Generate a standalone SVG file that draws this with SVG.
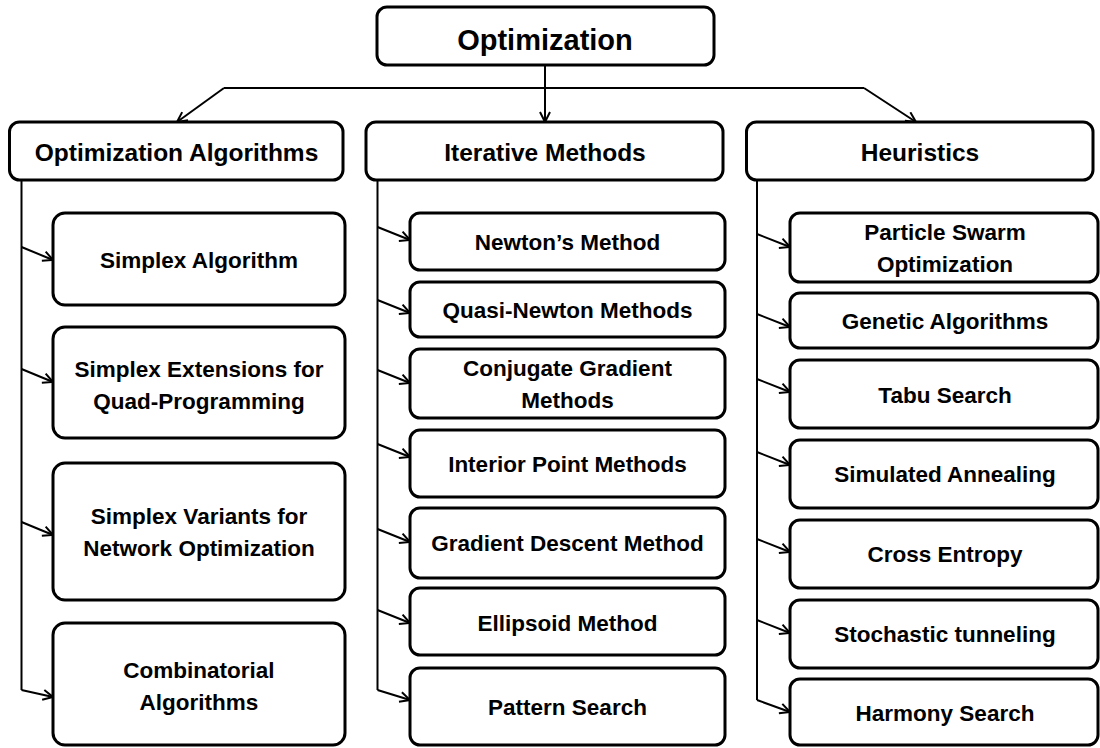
<svg xmlns="http://www.w3.org/2000/svg" width="1100" height="748" viewBox="0 0 1100 748">
<style>
.box{fill:#fff;stroke:#000;stroke-width:3}
.t{font-family:"Liberation Sans",Arial,sans-serif;font-weight:bold;fill:#000;text-anchor:middle}
.s{font-size:22.5px}
.m{font-size:24.5px}
.l{font-size:29px}
.c{fill:none;stroke:#000;stroke-width:2}
</style>
<defs>
<marker id="ah" markerWidth="12" markerHeight="12" refX="11" refY="6" orient="auto" markerUnits="userSpaceOnUse">
<path d="M1,1 L11,6 L1,11" fill="none" stroke="#000" stroke-width="2"/>
</marker>
</defs>
<rect width="1100" height="748" fill="#fff"/>
<g id="connectors">
<path class="c" d="M545,65 L545,122" marker-end="url(#ah)"/>
<path class="c" d="M224,88 L864,88"/>
<path class="c" d="M224,88 L177,122" marker-end="url(#ah)"/>
<path class="c" d="M864,88 L916,122" marker-end="url(#ah)"/>
<path class="c" d="M21.5,180 L21.5,690"/>
<path class="c" d="M21.5,247 L53,260" marker-end="url(#ah)"/>
<path class="c" d="M21.5,369 L53,382" marker-end="url(#ah)"/>
<path class="c" d="M21.5,522 L53,535" marker-end="url(#ah)"/>
<path class="c" d="M21.5,690 L53,697" marker-end="url(#ah)"/>
<path class="c" d="M377.5,180 L377.5,690"/>
<path class="c" d="M377.5,227 L410,240" marker-end="url(#ah)"/>
<path class="c" d="M377.5,300 L410,313" marker-end="url(#ah)"/>
<path class="c" d="M377.5,370 L410,383" marker-end="url(#ah)"/>
<path class="c" d="M377.5,444 L410,457" marker-end="url(#ah)"/>
<path class="c" d="M377.5,529 L410,542" marker-end="url(#ah)"/>
<path class="c" d="M377.5,610 L410,623" marker-end="url(#ah)"/>
<path class="c" d="M377.5,690 L410,700" marker-end="url(#ah)"/>
<path class="c" d="M757,180 L757,700"/>
<path class="c" d="M757,234 L790,247" marker-end="url(#ah)"/>
<path class="c" d="M757,314 L790,327" marker-end="url(#ah)"/>
<path class="c" d="M757,379 L790,392" marker-end="url(#ah)"/>
<path class="c" d="M757,452 L790,465" marker-end="url(#ah)"/>
<path class="c" d="M757,539 L790,552" marker-end="url(#ah)"/>
<path class="c" d="M757,620 L790,633" marker-end="url(#ah)"/>
<path class="c" d="M757,700 L790,712" marker-end="url(#ah)"/>
</g>
<g id="optimization"><rect class="box" x="377" y="7" width="337" height="58" rx="10"/><text class="t l" x="545" y="50">Optimization</text></g>
<g id="opt-algorithms"><rect class="box" x="9.5" y="122" width="333.5" height="58" rx="10"/><text class="t m" x="176.5" y="161">Optimization Algorithms</text></g>
<g id="iterative"><rect class="box" x="366" y="122" width="357" height="58" rx="10"/><text class="t m" x="545" y="161">Iterative Methods</text></g>
<g id="heuristics"><rect class="box" x="746.5" y="122" width="346.5" height="58" rx="10"/><text class="t m" x="920" y="161">Heuristics</text></g>

<g id="simplex-algorithm"><rect class="box" x="53" y="213" width="292" height="92" rx="12"/><text class="t s" x="199" y="268">Simplex Algorithm</text></g>
<g id="simplex-extensions"><rect class="box" x="53" y="327" width="292" height="111" rx="12"/><text class="t s" x="199" y="377">Simplex Extensions for</text><text class="t s" x="199" y="409">Quad-Programming</text></g>
<g id="simplex-variants"><rect class="box" x="53" y="463" width="292" height="137" rx="12"/><text class="t s" x="199" y="524">Simplex Variants for</text><text class="t s" x="199" y="556">Network Optimization</text></g>
<g id="combinatorial"><rect class="box" x="53" y="623" width="292" height="122" rx="12"/><text class="t s" x="199" y="678">Combinatorial</text><text class="t s" x="199" y="710">Algorithms</text></g>

<g id="newton"><rect class="box" x="410" y="213" width="315" height="57" rx="10"/><text class="t s" x="567.5" y="250">Newton’s Method</text></g>
<g id="quasi-newton"><rect class="box" x="410" y="282" width="315" height="55" rx="10"/><text class="t s" x="567.5" y="318">Quasi-Newton Methods</text></g>
<g id="conjugate"><rect class="box" x="410" y="349" width="315" height="69" rx="10"/><text class="t s" x="567.5" y="376">Conjugate Gradient</text><text class="t s" x="567.5" y="408">Methods</text></g>
<g id="interior"><rect class="box" x="410" y="430" width="315" height="67" rx="10"/><text class="t s" x="567.5" y="472">Interior Point Methods</text></g>
<g id="gradient"><rect class="box" x="410" y="508" width="315" height="70" rx="10"/><text class="t s" x="567.5" y="551">Gradient Descent Method</text></g>
<g id="ellipsoid"><rect class="box" x="410" y="588" width="315" height="67" rx="10"/><text class="t s" x="567.5" y="631">Ellipsoid Method</text></g>
<g id="pattern"><rect class="box" x="410" y="668" width="315" height="77" rx="10"/><text class="t s" x="567.5" y="715">Pattern Search</text></g>

<g id="pso"><rect class="box" x="790" y="213" width="308" height="69" rx="10"/><text class="t s" x="945" y="240">Particle Swarm</text><text class="t s" x="945" y="272">Optimization</text></g>
<g id="genetic"><rect class="box" x="790" y="293" width="308" height="55" rx="10"/><text class="t s" x="945" y="329">Genetic Algorithms</text></g>
<g id="tabu"><rect class="box" x="790" y="360" width="308" height="68" rx="10"/><text class="t s" x="945" y="403">Tabu Search</text></g>
<g id="annealing"><rect class="box" x="790" y="440" width="308" height="68" rx="10"/><text class="t s" x="945" y="482">Simulated Annealing</text></g>
<g id="cross-entropy"><rect class="box" x="790" y="520" width="308" height="68" rx="10"/><text class="t s" x="945" y="562">Cross Entropy</text></g>
<g id="stochastic"><rect class="box" x="790" y="600" width="308" height="68" rx="10"/><text class="t s" x="945" y="642">Stochastic tunneling</text></g>
<g id="harmony"><rect class="box" x="790" y="679" width="308" height="66" rx="10"/><text class="t s" x="945" y="721">Harmony Search</text></g>
</svg>
